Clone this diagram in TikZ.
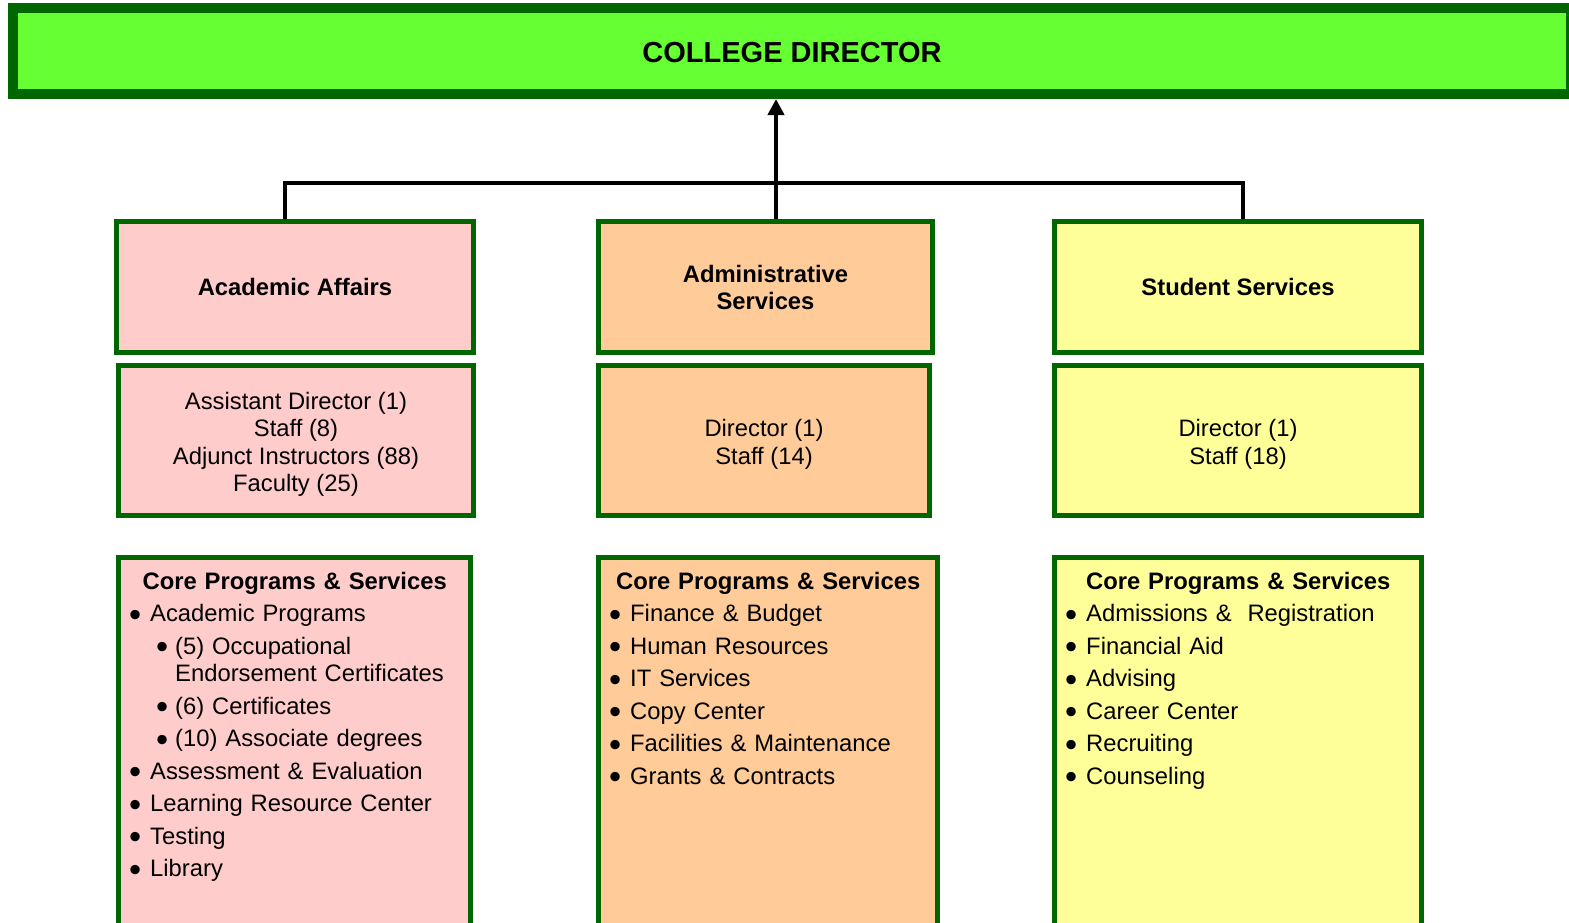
\documentclass[tikz,border=0pt]{standalone}
\usepackage{fontspec}
\setmainfont{Liberation Sans}
\usetikzlibrary{arrows.meta}
\definecolor{dgreen}{HTML}{006600}
\definecolor{bright}{HTML}{66FF33}
\definecolor{pinkf}{HTML}{FFCCCC}
\definecolor{orangef}{HTML}{FFCC99}
\definecolor{yellowf}{HTML}{FFFF99}
\newcommand{\blt}{\raisebox{-4.6pt}[0pt][0pt]{\scalebox{1.45}{\textbullet}}}
\newcommand{\bi}[1]{\par\noindent\hangindent=21pt\hangafter=1\makebox[21pt][l]{\blt}#1}
\newcommand{\bii}[1]{\par\noindent\hangindent=46pt\hangafter=1\hspace*{27pt}\makebox[19pt][l]{\blt}#1}
\newcommand{\cpstitle}{\setlength{\parskip}{4.9pt}\noindent\makebox[\linewidth][c]{\textbf{Core Programs \& Services}}}
\newcommand{\tallstrut}{\rule{0pt}{25pt}}
\begin{document}
\begin{tikzpicture}[x=1pt,y=-1pt,
  box/.style={draw=dgreen, line width=5pt, inner sep=0pt,
    font=\fontsize{23.8pt}{27.6pt}\selectfont, align=center},
  head/.style={box, font=\fontsize{23.8pt}{27pt}\selectfont\bfseries},
  listtext/.style={inner sep=0pt, anchor=base west, align=left,
    font=\fontsize{23.8pt}{27.6pt}\selectfont},
  conn/.style={draw=black, line width=4.5pt}]
\useasboundingbox (0,0) rectangle (1569,922);
\clip (0,0) rectangle (1569,922);
% director
\node[draw=dgreen, fill=bright, line width=10pt, minimum width=1558pt,
  minimum height=86pt, inner sep=0pt,
  font=\fontsize{29pt}{34pt}\selectfont\bfseries] (dir) at (792,51) {\raisebox{-2pt}[\height][\depth]{COLLEGE DIRECTOR}};
% academic affairs
\node[head, fill=pinkf, minimum width=357pt, minimum height=131pt] (aa) at (295,287) {Academic Affairs};
\node[box, fill=pinkf, minimum width=355pt, minimum height=150pt] (aas) at (296,440.5)
  {\tallstrut Assistant Director (1)\\Staff (8)\\Adjunct Instructors (88)\\Faculty (25)};
\node[box, fill=pinkf, minimum width=352pt, minimum height=400pt] (aac) at (294.5,757.5) {};
\node[listtext, text width=331pt] (aat) at (129,589) {\cpstitle
  \bi{Academic Programs}
  \bii{(5) Occupational\newline Endorsement Certificates}
  \bii{(6) Certificates}
  \bii{(10) Associate degrees}
  \bi{Assessment \& Evaluation}
  \bi{Learning Resource Center}
  \bi{Testing}
  \bi{Library}};
% administrative services
\node[head, fill=orangef, minimum width=334pt, minimum height=131pt] (as) at (765.5,287) {Administrative\\Services};
\node[box, fill=orangef, minimum width=331pt, minimum height=150pt] (ass) at (764,440.5)
  {\tallstrut Director (1)\\Staff (14)};
\node[box, fill=orangef, minimum width=339pt, minimum height=400pt] (asc) at (768,757.5) {};
\node[listtext, text width=318pt] (ast) at (609,589) {\cpstitle
  \bi{Finance \& Budget}
  \bi{Human Resources}
  \bi{IT Services}
  \bi{Copy Center}
  \bi{Facilities \& Maintenance}
  \bi{Grants \& Contracts}};
% student services
\node[head, fill=yellowf, minimum width=367pt, minimum height=131pt] (ss) at (1238,287) {Student Services};
\node[box, fill=yellowf, minimum width=367pt, minimum height=150pt] (sss) at (1238,440.5)
  {\tallstrut Director (1)\\Staff (18)};
\node[box, fill=yellowf, minimum width=367pt, minimum height=400pt] (ssc) at (1238,757.5) {};
\node[listtext, text width=346pt] (sst) at (1065,589) {\cpstitle
  \bi{Admissions \&\ \ Registration}
  \bi{Financial Aid}
  \bi{Advising}
  \bi{Career Center}
  \bi{Recruiting}
  \bi{Counseling}};
% connectors
\coordinate (j1) at (285,183);
\coordinate (j2) at (776,183);
\coordinate (j3) at (1243,183);
\draw[conn] (aa.north -| j1) -- (j1) -- (j3) -- (ss.north -| j3);
\draw[conn, -{Triangle[length=16pt,width=16pt]}] (as.north -| j2) -- (dir.south -| j2);
\end{tikzpicture}
\end{document}
